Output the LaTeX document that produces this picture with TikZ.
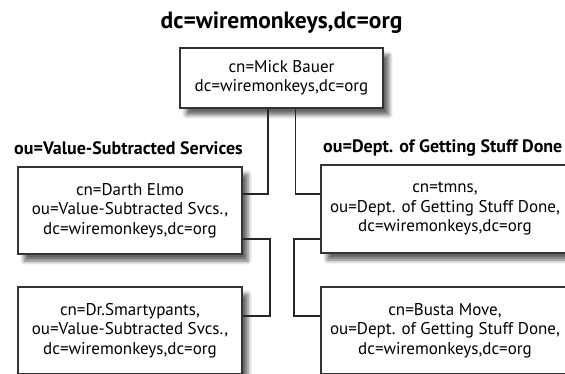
\documentclass[tikz,border=0pt]{standalone}
\usepackage{fontspec}
\setmainfont{PT Sans}
\usetikzlibrary{shadows.blur}
\begin{document}
\begin{tikzpicture}[x=1pt,y=-1pt,
  entry/.style={draw=black!80,line width=1.3pt,fill=white,align=center,inner sep=0pt,font=\fontsize{17}{19.5}\selectfont,
    blur shadow={shadow xshift=6pt,shadow yshift=-7pt,shadow blur radius=4pt,shadow opacity=60}},
  heading/.style={font=\bfseries\fontsize{18}{20}\selectfont,inner sep=0pt},
  conn/.style={line width=1.8pt,black!85}]
\useasboundingbox (0,0) rectangle (565,374);\clip (0,0) rectangle (565,374);
\node[font=\bfseries\fontsize{23.5}{26}\selectfont,inner sep=0pt] (base) at (281.5,23){dc=wiremonkeys,dc=org};
\node[entry,minimum width=203pt,minimum height=60pt] (root) at (281.5,78){cn=Mick Bauer\\dc=wiremonkeys,dc=org};
\node[heading,anchor=west] (vss) at (14,148){ou=Value-Subtracted Services};
\node[heading,anchor=west] (gsd) at (323,148){ou=Dept. of Getting Stuff Done};
\node[entry,minimum width=224pt,minimum height=87pt] (elmo) at (130,210.5){cn=Darth Elmo\\ou=Value-Subtracted Svcs.,\\dc=wiremonkeys,dc=org};
\node[entry,minimum width=224pt,minimum height=87pt] (smarty) at (130,330.5){cn=Dr.Smartypants,\\ou=Value-Subtracted Svcs.,\\dc=wiremonkeys,dc=org};
\node[entry,minimum width=248pt,minimum height=88pt] (tmns) at (445,209){cn=tmns,\\ou=Dept. of Getting Stuff Done,\\dc=wiremonkeys,dc=org};
\node[entry,minimum width=248pt,minimum height=87pt] (busta) at (445,330.5){cn=Busta Move,\\ou=Dept. of Getting Stuff Done,\\dc=wiremonkeys,dc=org};
\draw[conn] ([xshift=-13.5pt]root.south) |- ([yshift=16.5pt]elmo.east);
\draw[conn] ([xshift=14pt]root.south) |- ([yshift=15pt]tmns.west);
\draw[conn] ([yshift=-28.5pt]elmo.east) -- ++(27,0) |- ([yshift=14.5pt]smarty.east);
\draw[conn] ([yshift=-30pt]tmns.west) -- ++(-26,0) |- ([yshift=14.5pt]busta.west);
\end{tikzpicture}
\end{document}
